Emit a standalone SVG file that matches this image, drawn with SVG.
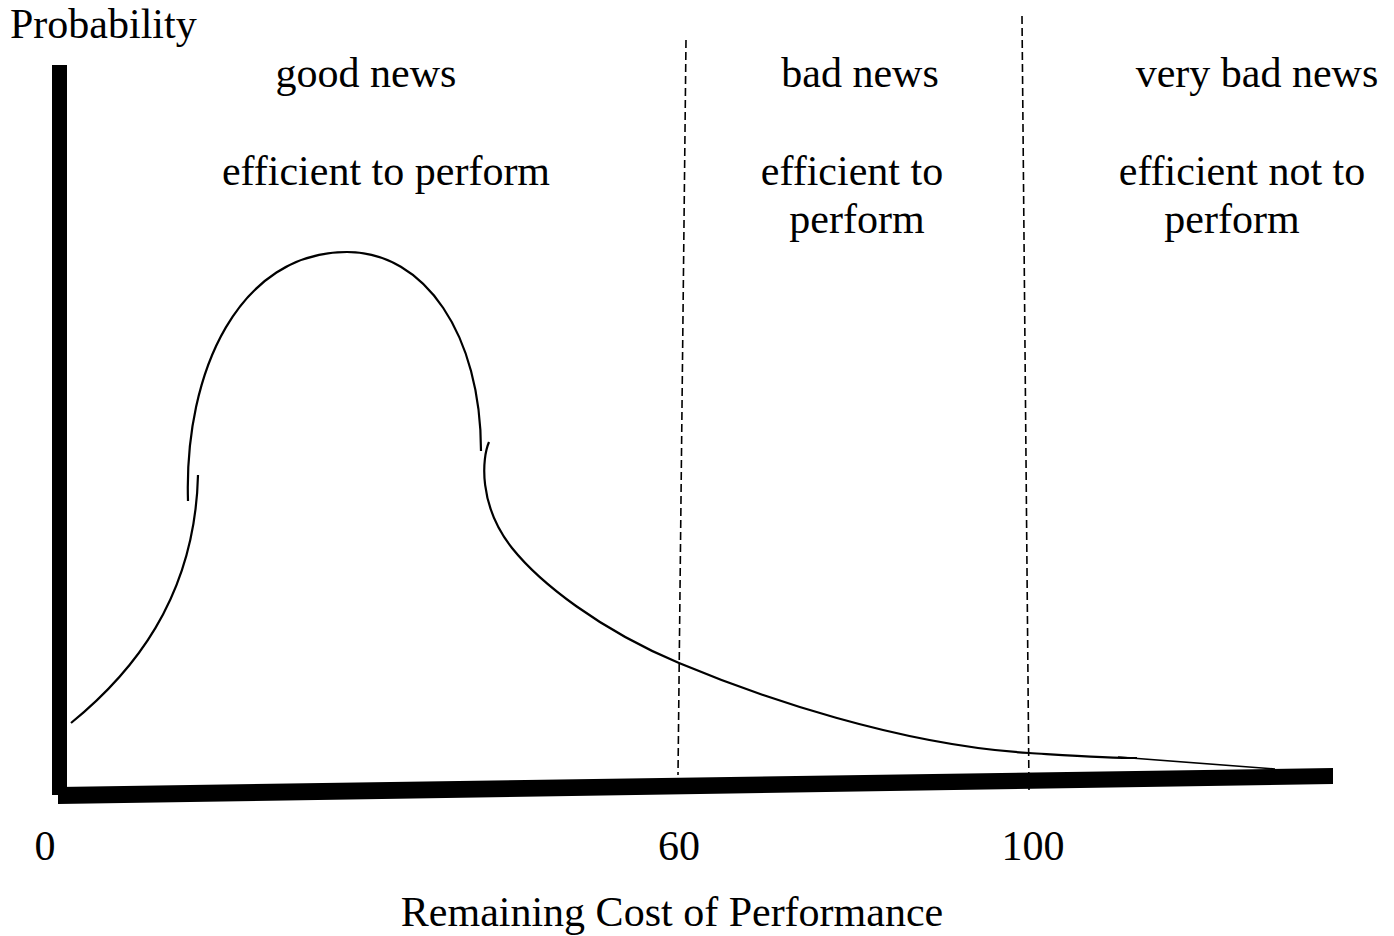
<svg xmlns="http://www.w3.org/2000/svg" width="1394" height="936" viewBox="0 0 1394 936">
<style>
.t{font-family:"Liberation Serif","Times New Roman",serif;font-size:42px;fill:#000;text-anchor:middle}
.c{fill:none;stroke:#000;stroke-width:2.2;stroke-linecap:butt}
.d{fill:none;stroke:#000;stroke-width:1.6;stroke-dasharray:8 4}
</style>
<rect width="1394" height="936" fill="#fff"/>
<g id="axes">
<rect x="52" y="65" width="15" height="730" fill="#000"/>
<polygon points="58,787 1333,768 1333,784 58,804" fill="#000"/>
</g>
<g id="dividers">
<line class="d" x1="686" y1="40" x2="678" y2="775"/>
<line class="d" x1="1022" y1="16" x2="1029" y2="790"/>
</g>
<g id="curve">
<path class="c" d="M71,723 C130,675 195,600 198,475"/>
<path class="c" d="M188,501 C184,370 240,252 347,252 C425,252 481,335 481,451"/>
<path class="c" d="M489,442 C482,458 478,505 512,548 C540,583 600,630 679,663 C760,697 900,745 1029,753 C1080,756 1110,758 1137,758"/>
<path fill="none" stroke="#000" stroke-width="1.6" d="M1118,757 L1275,769"/>
</g>
<g id="labels">
<text class="t" x="10" y="38" style="text-anchor:start">Probability</text>
<text class="t" x="366" y="87">good news</text>
<text class="t" x="386" y="185">efficient to perform</text>
<text class="t" x="860" y="87">bad news</text>
<text class="t" x="852" y="185">efficient to</text>
<text class="t" x="857" y="233">perform</text>
<text class="t" x="1257" y="87">very bad news</text>
<text class="t" x="1242" y="185">efficient not to</text>
<text class="t" x="1232" y="233">perform</text>
<text class="t" x="45" y="860">0</text>
<text class="t" x="679" y="860">60</text>
<text class="t" x="1033" y="860">100</text>
<text class="t" x="672" y="926">Remaining Cost of Performance</text>
</g>
</svg>
